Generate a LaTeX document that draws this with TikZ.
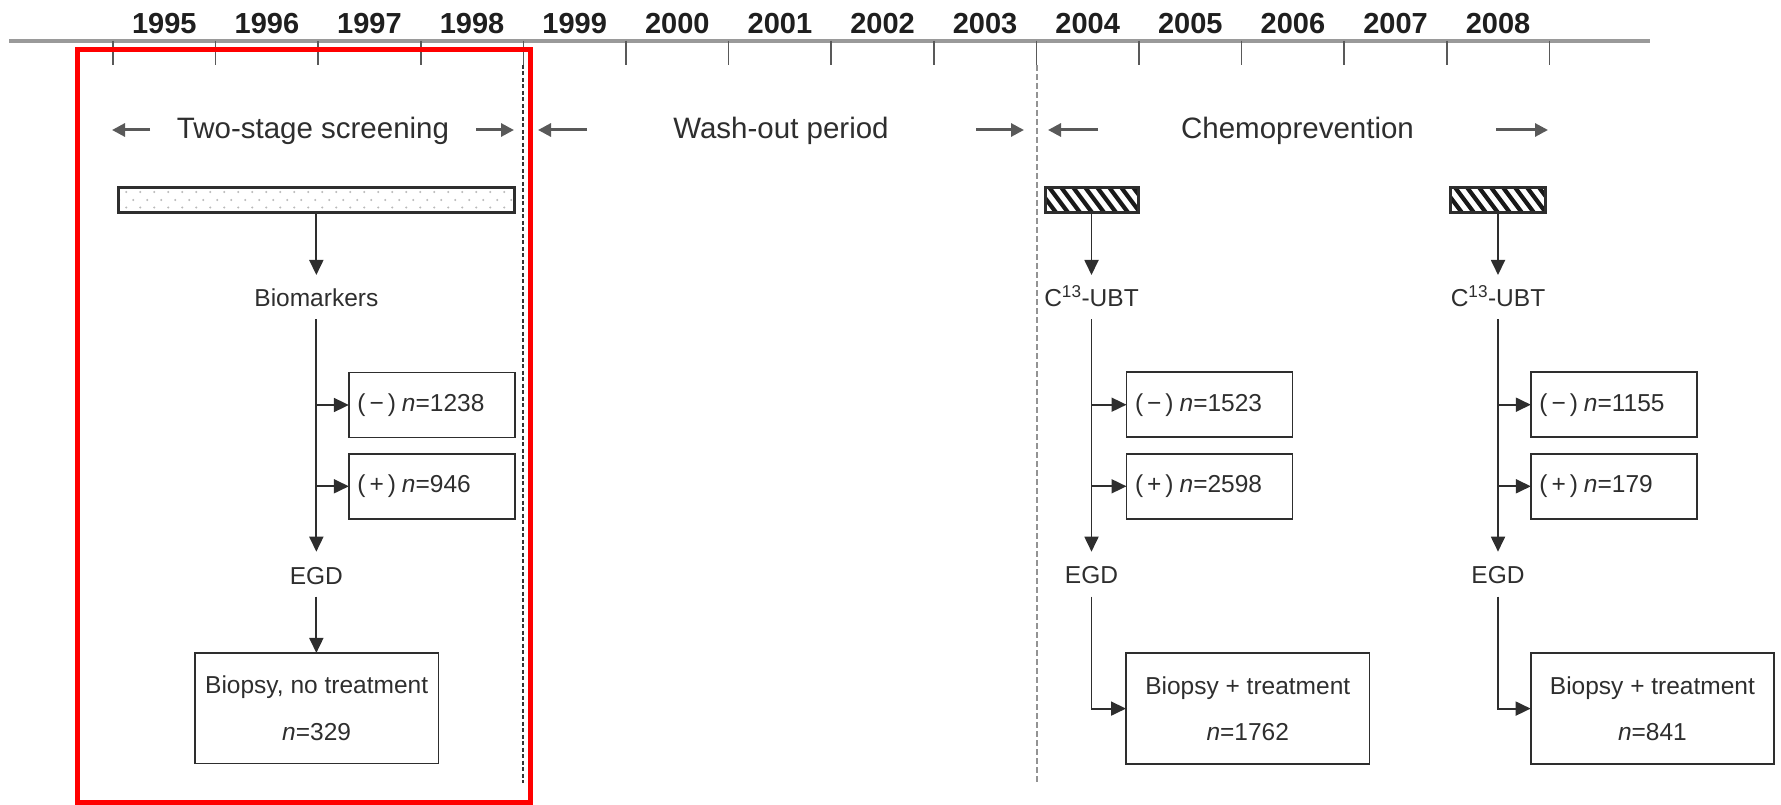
\documentclass[tikz,border=0pt]{standalone}
\usepackage{fontspec}
\setmainfont{Liberation Sans}
\usetikzlibrary{arrows.meta}
\definecolor{ink}{HTML}{2E2E2E}
\definecolor{axisgray}{HTML}{9A9A9A}
\newcommand{\mneg}[1]{(\kern4pt−\kern4pt)\kern6pt\textit{n}=#1}
\newcommand{\mpos}[1]{(\kern4pt+\kern4pt)\kern6pt\textit{n}=#1}
\begin{document}
\begin{tikzpicture}[x=1pt,y=-1pt,
  every node/.style={inner sep=0pt, outer sep=0pt, text=ink},
  yearlbl/.style={font=\fontsize{29}{30}\selectfont\bfseries, text=black!88, anchor=base},
  headlbl/.style={font=\fontsize{29.5}{32}\selectfont, anchor=base},
  steplbl/.style={font=\fontsize{24.5}{27}\selectfont, anchor=base},
  smallbox/.style={draw=ink, line width=1.8pt, font=\fontsize{24.5}{27}\selectfont,
    text width=149pt, align=left, inner xsep=8.5pt, minimum height=65pt},
  resbox/.style={draw=ink, line width=1.8pt, font=\fontsize{24.5}{27}\selectfont,
    align=center, minimum width=243.5pt, minimum height=110.5pt},
  conn/.style={draw=ink, line width=1.8pt, -{Triangle[length=15pt,width=14pt]}},
  harrow/.style={draw=black!65, line width=3pt, -{Triangle[length=13pt,width=13pt]}},
  barbox/.style={draw=ink, line width=3pt, fill=white, minimum height=25pt},
  hatchfill/.style={path picture={
    \foreach \k in {-3,...,9} {
      \draw[line width=4.2pt, black!90]
        ([xshift=\k*12pt-10pt, yshift=3pt]path picture bounding box.north west) -- ++(24pt,-32pt);
    }}},
  dotfill/.style={path picture={
    \foreach \k in {0,...,28} {
      \fill[gray!55] ([xshift=\k*14pt+8pt, yshift=-4.5pt]path picture bounding box.north west) circle (1.1pt);
      \fill[gray!55] ([xshift=\k*14pt+1pt, yshift=-12.5pt]path picture bounding box.north west) circle (1.1pt);
      \fill[gray!55] ([xshift=\k*14pt+8pt, yshift=-20pt]path picture bounding box.north west) circle (1.1pt);
    }}},
]
\useasboundingbox (0,0) rectangle (1781,805);

% timeline
\draw[line width=3.5pt, axisgray] (9,41) -- (1650,41);
\foreach \i in {0,...,14} {
  \draw[line width=1.6pt, black!65] (113+102.6*\i,41) -- (113+102.6*\i,65);
}
\foreach \y [count=\i from 0] in {1995,...,2008} {
  \node[yearlbl] (yr\y) at (164.3+102.6*\i,33.3) {\y};
}

% period separators
\draw[black!80, line width=1.5pt, dash pattern=on 4pt off 2.5pt] (523,65) -- (523,783);
\draw[gray!85, line width=2pt, dash pattern=on 6pt off 3pt] (1037,65) -- (1037,783);

% headers
\node[headlbl] (h1) at (313,138.5) {Two-stage screening};
\node[headlbl] (h2) at (781,138.5) {Wash-out period};
\node[headlbl] (h3) at (1297.5,138.5) {Chemoprevention};
\coordinate (a1t) at (150,130);  \coordinate (a1h) at (112,130);
\coordinate (a2t) at (476,130);  \coordinate (a2h) at (514,130);
\coordinate (a3t) at (587,130);  \coordinate (a3h) at (538,130);
\coordinate (a4t) at (976,130);  \coordinate (a4h) at (1024,130);
\coordinate (a5t) at (1098,130); \coordinate (a5h) at (1048,130);
\coordinate (a6t) at (1496,130); \coordinate (a6h) at (1548,130);
\draw[harrow] (a1t) -- (a1h);
\draw[harrow] (a2t) -- (a2h);
\draw[harrow] (a3t) -- (a3h);
\draw[harrow] (a4t) -- (a4h);
\draw[harrow] (a5t) -- (a5h);
\draw[harrow] (a6t) -- (a6h);

% bars
\node[barbox, dotfill, minimum width=396.3pt] (dotbar) at (316.35,200) {};
\node[barbox, hatchfill, minimum width=93pt] (hbar1) at (1091.5,200) {};
\node[barbox, hatchfill, minimum width=94.4pt] (hbar2) at (1498,200) {};

% step labels
\node[steplbl] (bio) at (316.35,306) {Biomarkers};
\node[steplbl] (ubt1) at (1091.5,306.7) {C\textsuperscript{13}-UBT};
\node[steplbl] (ubt2) at (1498,306.7) {C\textsuperscript{13}-UBT};
\node[steplbl] (egd0) at (316.35,584) {EGD};
\node[steplbl] (egd1) at (1091.5,583.5) {EGD};
\node[steplbl] (egd2) at (1498,583.5) {EGD};

% boxes
\node[smallbox] (neg0) at (431.85,405) {\mneg{1238}};
\node[smallbox] (pos0) at (431.85,486.3) {\mpos{946}};
\node[smallbox] (neg1) at (1209.5,404.7) {\mneg{1523}};
\node[smallbox] (pos1) at (1209.5,486.3) {\mpos{2598}};
\node[smallbox] (neg2) at (1613.85,404.7) {\mneg{1155}};
\node[smallbox] (pos2) at (1613.85,486.3) {\mpos{179}};
\node[resbox] (res0) at (316.65,708.2) {Biopsy, no treatment\\[19.5pt]\textit{n}=329};
\node[resbox] (res1) at (1247.75,708.6) {Biopsy + treatment\\[19.5pt]\textit{n}=1762};
\node[resbox] (res2) at (1652.4,708.6) {Biopsy + treatment\\[19.5pt]\textit{n}=841};

% connectors: screening column
\draw[conn] (dotbar.south) -- ([yshift=31pt]bio.base);
\draw[conn] ([yshift=-13pt]bio.base) -- ([yshift=32.3pt]egd0.base);
\draw[conn] (bio.base |- neg0.west) -- (neg0.west);
\draw[conn] (bio.base |- pos0.west) -- (pos0.west);
\draw[conn] ([yshift=-12.7pt]egd0.base) -- (res0.north -| egd0.base);

% connectors: 2004 column
\draw[conn] (hbar1.south) -- ([yshift=31.7pt]ubt1.base);
\draw[conn] ([yshift=-12.3pt]ubt1.base) -- ([yshift=31.8pt]egd1.base);
\draw[conn] (ubt1.base |- neg1.west) -- (neg1.west);
\draw[conn] (ubt1.base |- pos1.west) -- (pos1.west);
\draw[conn] ([yshift=-13.2pt]egd1.base) |- (res1.west);

% connectors: 2008 column
\draw[conn] (hbar2.south) -- ([yshift=31.7pt]ubt2.base);
\draw[conn] ([yshift=-12.3pt]ubt2.base) -- ([yshift=31.8pt]egd2.base);
\draw[conn] (ubt2.base |- neg2.west) -- (neg2.west);
\draw[conn] (ubt2.base |- pos2.west) -- (pos2.west);
\draw[conn] ([yshift=-13.2pt]egd2.base) |- (res2.west);

% highlight frame
\draw[red, line width=5pt] (77.5,50) rectangle (530.5,802.5);
\end{tikzpicture}
\end{document}
